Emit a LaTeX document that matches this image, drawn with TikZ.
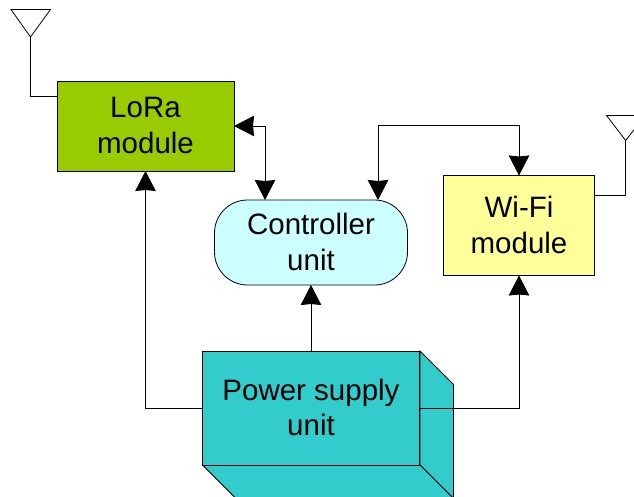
\documentclass[tikz,border=0pt]{standalone}
\usepackage{fontspec}
\setmainfont{Liberation Sans}
\usepackage{tikz}
\usetikzlibrary{arrows.meta}
\definecolor{loragreen}{HTML}{99CC00}
\definecolor{ctrlblue}{HTML}{CCFFFF}
\definecolor{wifiyellow}{HTML}{FFFF99}
\definecolor{psuteal}{HTML}{33CCCC}
\newcommand{\lifted}[1]{\raisebox{0.5pt}[\height][\depth]{#1}}

\begin{document}
\begin{tikzpicture}[x=1pt, y=-1pt, line width=0.8pt,
    main/.style = {draw, align=center, inner sep=0pt, outer sep=0pt, font=\fontsize{29.5}{35.5}\selectfont},
    link/.style = {-{Stealth[length=20pt, width=20.5pt, inset=1pt]}},
    biglink/.style = {{Stealth[length=20pt, width=20.5pt, inset=1pt]}-{Stealth[length=20pt, width=20.5pt, inset=1pt]}},
    face/.style = {draw, fill=psuteal}]
        \clip (0,0) rectangle (634,497);
        % power supply box sides
        \draw[face] (420,351) -- (453.5,384.5) -- (453.5,498.5) -- (420,465) -- cycle;
        \draw[face] (202.5,465) -- (420,465) -- (453.5,498.5) -- (236,498.5) -- cycle;
        \node[main, fill=loragreen, minimum width=177pt, minimum height=90pt] (lora) at (145.5,126) {\lifted{LoRa}\\\lifted{module}};
        \node[main, fill=ctrlblue, rounded corners=33pt, minimum width=193pt, minimum height=85pt] (ctrl) at (311,242.5) {\lifted{Controller}\\\lifted{unit}};
        \node[main, fill=wifiyellow, minimum width=151pt, minimum height=100pt] (wifi) at (519,225.5) {\lifted{Wi-Fi}\\\lifted{module}};
        \node[main, fill=psuteal, minimum width=217.5pt, minimum height=114pt] (psu) at (311,408) {\lifted{Power supply}\\\lifted{unit}};
        % antennas
        \coordinate (antl) at (30.5,37);
        \coordinate (antr) at (625.7,140.5);
        \draw (antl) -- (11,9.5) -- (50.5,9.5) -- cycle;
        \draw (antr) -- (606.5,115.5) -- (645,115.5) -- cycle;
        \draw (antl) |- ([yshift=30pt]lora.west);
        \draw (antr) |- ([yshift=30pt]wifi.east);
        % links
        \coordinate (top) at (519,125);
        \draw[biglink] (lora.east) -| ([xshift=-46pt]ctrl.north);
        \draw[biglink] (wifi.north) -- (top) -| ([xshift=67pt]ctrl.north);
        \draw[link] (psu.west) -| (lora.south);
        \draw[link] (psu.north) -- (ctrl.south);
        \draw[link] (psu.east) -| (wifi.south);
    \end{tikzpicture}
\end{document}
